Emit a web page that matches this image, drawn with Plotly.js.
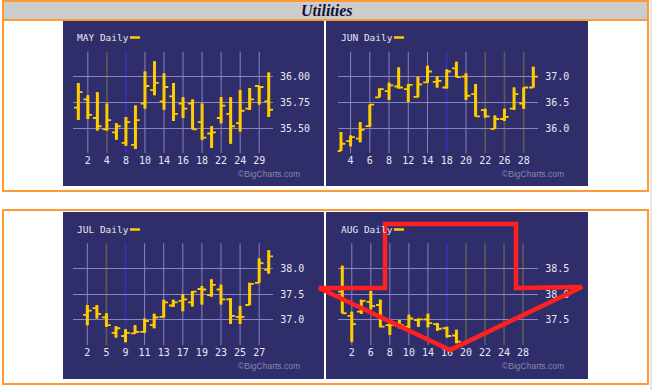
<!DOCTYPE html>
<html><head><meta charset="utf-8">
<script src="https://cdn.plot.ly/plotly-3.0.1.min.js"></script>
<style>html,body{margin:0;padding:0;background:#fff;}#chart{width:655px;height:390px;}</style>
</head><body><div id="chart"></div>
<script>
// ---------- DATA ----------
const mayDays  = [1,2,3,4,7,8,9,10,11,14,15,16,17,18,21,22,23,24,25,29,30];
const mayOpen  = [35.70,35.78,35.60,35.49,35.46,35.36,35.34,35.74,35.87,35.76,35.81,35.74,35.74,35.56,35.45,35.60,35.64,35.55,35.69,35.91,35.76];
const mayHigh  = [35.94,35.82,35.85,35.74,35.55,35.61,35.72,36.05,36.15,36.03,35.94,35.80,35.78,35.74,35.52,35.80,35.80,35.87,35.89,35.91,36.04];
const mayLow   = [35.58,35.59,35.48,35.48,35.39,35.33,35.30,35.69,35.82,35.68,35.57,35.60,35.49,35.39,35.31,35.55,35.35,35.47,35.68,35.73,35.61];
const mayClose = [35.85,35.63,35.52,35.58,35.52,35.56,35.58,35.91,35.94,35.90,35.64,35.69,35.49,35.41,35.46,35.72,35.52,35.67,35.78,35.90,35.68];
const mayTicks = [2,4,8,10,14,16,18,22,24,29];
const mayYTicks = [35.50,35.75,36.00];

const junDays  = [1,4,5,6,7,8,11,12,13,14,15,18,19,20,21,22,25,26,27,28,29];
const junOpen  = [35.56,35.75,35.80,36.04,36.60,36.72,36.81,36.76,36.61,36.89,36.90,36.79,37.16,37.00,36.66,36.35,35.99,36.18,36.38,36.48,36.79];
const junHigh  = [35.93,35.86,36.12,36.46,36.77,36.88,37.18,36.86,37.00,37.21,37.01,37.14,37.29,37.06,36.86,36.38,36.25,36.38,36.79,36.79,37.19];
const junLow   = [35.56,35.65,35.73,36.03,36.60,36.55,36.77,36.51,36.60,36.88,36.79,36.77,36.99,36.55,36.23,36.21,35.99,36.14,36.36,36.38,36.79];
const junClose = [35.70,35.83,35.97,36.46,36.76,36.83,36.79,36.84,36.85,37.10,36.92,37.10,36.99,36.63,36.23,36.23,36.18,36.22,36.66,36.79,37.00];
const junTicks = [4,6,8,12,14,18,20,22,26,28];
const junYTicks = [36.0,36.5,37.0];

const julDays  = [2,3,5,6,9,10,11,12,13,16,17,18,19,20,23,24,25,26,27,30,31];
const julOpen  = [37.10,37.23,37.05,36.75,36.69,36.74,36.77,36.90,37.06,37.28,37.37,37.34,37.60,37.48,37.59,37.40,37.06,37.29,37.72,37.97];
const julHigh  = [37.29,37.29,37.13,36.88,36.82,36.90,37.03,37.12,37.39,37.39,37.50,37.56,37.66,37.79,37.68,37.42,37.27,37.72,38.19,38.35];
const julLow   = [36.90,37.03,36.87,36.66,36.57,36.74,36.75,36.84,37.05,37.25,37.17,37.26,37.30,37.45,37.30,36.92,36.92,37.29,37.72,37.90];
const julClose = [37.18,37.12,36.90,36.84,36.75,36.77,36.98,37.05,37.34,37.34,37.40,37.55,37.59,37.68,37.40,37.08,37.06,37.70,38.10,38.23];
const julTicks = [2,5,9,11,13,17,19,23,25,27];
const julYTicks = [37.0,37.5,38.0];

const augDays  = [1,2,3,6,7,8,9,10,13,14,15,16,17,20,21,22,23,24,27,28,29,30,31];
const augOpen  = [38.05,37.58,37.66,37.85,37.79,37.40,37.38,37.37,37.50,37.51,37.42,37.34,37.20];
const augHigh  = [38.55,37.66,37.89,38.06,37.89,37.44,37.50,37.60,37.53,37.62,37.44,37.37,37.31];
const augLow   = [37.63,37.08,37.62,37.71,37.36,37.21,37.34,37.34,37.37,37.36,37.29,37.16,37.05];
const augClose = [37.63,37.42,37.87,37.77,37.37,37.40,37.40,37.53,37.51,37.44,37.33,37.19,37.08];
const augTicks = [2,6,8,10,14,16,20,22,24,28];
const augYTicks = [37.5,38.0,38.5];

// ---------- STYLE / LAYOUT ----------
const W = 655, H = 390;
const PX = x => x / W, PY = y => 1 - y / H;
const NAVY = '#302d6b', GRID = '#8a84c0', TXT = '#e8e8f2', YEL = '#ffcc00';
const GRAYL = '#5d5c55', BLUEL = '#3434b4', ORANGE = '#ff9933';
const MONO = 'DejaVu Sans Mono, monospace';

const panels = [
  {name:'MAY', days:mayDays, o:mayOpen, h:mayHigh, l:mayLow, c:mayClose, ticks:mayTicks, yt:mayYTicks, fmt:'.2f',
   dx:0, dy:0, plot:[72.7,51.7,273,153], xr:[-0.59,20.45], yr:[35.261,36.242], gray:[4], blue:[8]},
  {name:'JUN', days:junDays, o:junOpen, h:junHigh, l:junLow, c:junClose, ticks:junTicks, yt:junYTicks, fmt:'.1f',
   dx:264, dy:0, plot:[337.7,51.7,538.3,153], xr:[-0.34,20.52], yr:[35.521,37.484], gray:[22,26,28], blue:[18]},
  {name:'JUL', days:julDays, o:julOpen, h:julHigh, l:julLow, c:julClose, ticks:julTicks, yt:julYTicks, fmt:'.1f',
   dx:0, dy:192, plot:[73.3,243.3,273.3,345], xr:[-1.47,19.48], yr:[36.516,38.484], gray:[5], blue:[9]},
  {name:'AUG', days:augDays, o:augOpen, h:augHigh, l:augLow, c:augClose, ticks:augTicks, yt:augYTicks, fmt:'.1f',
   dx:264, dy:192, plot:[337.7,243.3,538.3,345], xr:[-0.48,20.6], yr:[37.016,38.984], gray:[20,22,24,28], blue:[16]}
];
const panelBoxes = [[63,21,324,186],[326,21,588,186],[63,212,324,379],[326,212,588,379]];

const traces = [];
const layout = {
  width: W, height: H,
  margin: {l:0, r:0, t:0, b:0},
  paper_bgcolor: '#ffffff', plot_bgcolor: 'rgba(0,0,0,0)',
  showlegend: false,
  shapes: [], annotations: []
};

// frames
layout.shapes.push({type:'rect', xref:'paper', yref:'paper', x0:PX(3), x1:PX(648), y0:PY(1), y1:PY(20),
  fillcolor:'#cccccc', line:{color:ORANGE, width:2}, layer:'below'});
layout.shapes.push({type:'rect', xref:'paper', yref:'paper', x0:PX(3), x1:PX(648), y0:PY(20), y1:PY(191),
  fillcolor:'rgba(0,0,0,0)', line:{color:ORANGE, width:2}, layer:'below'});
layout.shapes.push({type:'rect', xref:'paper', yref:'paper', x0:PX(3), x1:PX(648), y0:PY(210), y1:PY(384),
  fillcolor:'rgba(0,0,0,0)', line:{color:ORANGE, width:2}, layer:'below'});
layout.shapes.push({type:'line', xref:'paper', yref:'paper', x0:PX(651), x1:PX(651), y0:0, y1:1,
  line:{color:'#dcdcdc', width:1.5}, layer:'below'});
layout.annotations.push({xref:'paper', yref:'paper', x:PX(327), y:PY(10.5), text:'<b><i>Utilities</i></b>',
  showarrow:false, xanchor:'center', yanchor:'middle',
  font:{family:'Liberation Serif, serif', size:16, color:'#10103a'}});

panels.forEach((p, k) => {
  const s = k === 0 ? '' : String(k + 1);
  const xa = 'x' + s, ya = 'y' + s;
  const n = p.o.length;
  const idx = p.days.slice(0, n).map((d, i) => i);
  const common = {type:'ohlc', x: idx, open: p.o, high: p.h, low: p.l, close: p.c,
    xaxis: xa, yaxis: ya, hoverinfo: 'skip', showlegend: false};
  traces.push(Object.assign({}, common, {tickwidth: 0.45,
    increasing:{line:{color:YEL, width:1.8}}, decreasing:{line:{color:YEL, width:1.8}}}));
  traces.push(Object.assign({}, common, {tickwidth: 0,
    increasing:{line:{color:YEL, width:3}}, decreasing:{line:{color:YEL, width:3}}}));

  const b = panelBoxes[k];
  layout.shapes.push({type:'rect', xref:'paper', yref:'paper', x0:PX(b[0]), x1:PX(b[2]), y0:PY(b[3]), y1:PY(b[1]),
    fillcolor:NAVY, line:{width:0}, layer:'below'});

  const pl = p.plot;
  layout['xaxis' + s] = {
    domain:[PX(pl[0]), PX(pl[2])], range:p.xr, anchor:ya, fixedrange:true,
    tickmode:'array', tickvals:p.ticks.map(t => p.days.indexOf(t)), ticktext:p.ticks.map(String),
    showgrid:false, zeroline:false, showline:false, ticks:'',
    tickfont:{family:MONO, size:10, color:TXT}, rangeslider:{visible:false}
  };
  layout['yaxis' + s] = {
    domain:[PY(pl[3]), PY(pl[1])], range:p.yr, anchor:xa, side:'right', fixedrange:true,
    tickmode:'array', tickvals:p.yt, tickformat:p.fmt,
    showgrid:true, gridcolor:GRID, gridwidth:1, zeroline:false, showline:false,
    ticks:'outside', ticklen:4, tickcolor:'rgba(0,0,0,0)',
    tickfont:{family:MONO, size:10, color:TXT}
  };
  // vertical gridlines, coloured like the reference
  p.ticks.forEach(t => {
    let col = GRID;
    if (p.gray.includes(t)) col = GRAYL;
    if (p.blue.includes(t)) col = BLUEL;
    const xi = p.days.indexOf(t);
    layout.shapes.push({type:'line', xref:xa, yref:ya + ' domain', x0:xi, x1:xi, y0:0, y1:1,
      line:{color:col, width:(col === GRID ? 1 : 1.6)}, layer:'below'});
  });
  // labels
  layout.annotations.push({xref:'paper', yref:'paper', x:PX(75 + p.dx), y:PY(37.5 + p.dy),
    text:p.name + ' Daily', showarrow:false, xanchor:'left', yanchor:'middle',
    font:{family:MONO, size:9.5, color:TXT}});
  layout.shapes.push({type:'line', xref:'paper', yref:'paper', x0:PX(130 + p.dx), x1:PX(140 + p.dx),
    y0:PY(37.5 + p.dy), y1:PY(37.5 + p.dy), line:{color:YEL, width:2.5}, layer:'above'});
  layout.annotations.push({xref:'paper', yref:'paper', x:PX(302 + p.dx), y:PY(174 + p.dy),
    text:'©BigCharts.com', showarrow:false, xanchor:'right', yanchor:'middle',
    font:{family:'Liberation Sans, Arial, sans-serif', size:8.5, color:'#8a88a8'}});
});

// red arrow overlay (decoration)
const arrowPts = [[385,224],[516,224],[516,288],[582,287],[450,350],[319,288],[385,288]];
const path = 'M ' + arrowPts.map(q => PX(q[0]) + ',' + PY(q[1])).join(' L ') + ' Z';
layout.shapes.push({type:'path', xref:'paper', yref:'paper', path:path,
  line:{color:'#ff2020', width:4.5}, fillcolor:'rgba(0,0,0,0)', layer:'above'});

Plotly.newPlot('chart', traces, layout, {displayModeBar:false, staticPlot:true});
</script>
</body></html>
